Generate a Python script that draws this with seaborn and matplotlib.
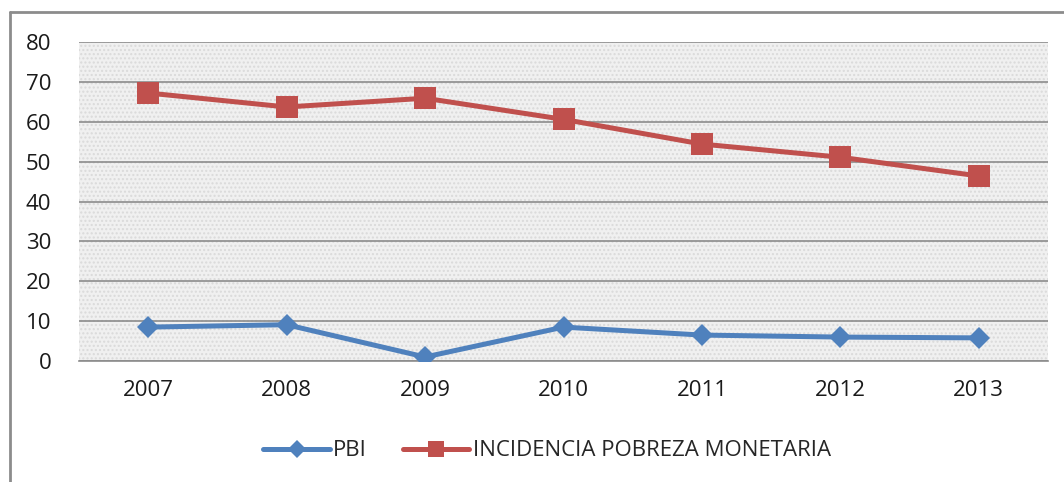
import matplotlib
matplotlib.use("Agg")
import matplotlib.pyplot as plt
import numpy as np
import pandas as pd
import seaborn as sns
from matplotlib.lines import Line2D

years = ["2007", "2008", "2009", "2010", "2011", "2012", "2013"]
pbi = [8.5, 9.1, 1.0, 8.5, 6.5, 6.0, 5.8]
pobreza = [67.2, 63.7, 65.9, 60.6, 54.4, 51.1, 46.4]
yticks = [0, 10, 20, 30, 40, 50, 60, 70, 80]

sns.set_style("white")
plt.rcParams['font.family'] = ['Open Sans', 'DejaVu Sans']

df = pd.DataFrame({"year": years, "PBI": pbi, "INCIDENCIA POBREZA MONETARIA": pobreza})
df = df.melt(id_vars="year", var_name="serie", value_name="valor")

fig = plt.figure(figsize=(10.64, 4.82), dpi=100)
ax = fig.add_axes([79 / 1064, 1 - 361 / 482, (1048 - 79) / 1064, (361 - 42) / 482])

ax.set_facecolor("#f0f0f0")
ax.add_patch(plt.Rectangle((0, 0), 1, 1, transform=ax.transAxes, facecolor="none",
                           edgecolor="#dadada", hatch="....", linewidth=0, zorder=0))

sns.lineplot(data=df, x="year", y="valor", hue="serie", style="serie",
             palette={"PBI": "#4F81BD", "INCIDENCIA POBREZA MONETARIA": "#C0504D"},
             markers={"PBI": "D", "INCIDENCIA POBREZA MONETARIA": "s"},
             dashes=False, linewidth=3.6, markeredgewidth=0, ax=ax, legend=False, zorder=3)

# tamaño de marcadores por serie
for line in ax.get_lines():
    if line.get_marker() == "D":
        line.set_markersize(11)
    else:
        line.set_markersize(15.5)

ax.set_xlim(-0.5, len(years) - 0.5)
ax.set_ylim(0, 80)
ax.set_yticks(yticks)
ax.set_xlabel("")
ax.set_ylabel("")
ax.grid(axis="y", color="#8c8c8c", linewidth=1.2)
ax.set_axisbelow(True)
for s in ["left", "right", "top"]:
    ax.spines[s].set_visible(False)
ax.spines["bottom"].set_color("#8c8c8c")
ax.spines["bottom"].set_linewidth(1.2)
ax.tick_params(axis="both", length=0, labelsize=16, colors="#1a1a1a")
ax.tick_params(axis="x", pad=14)
ax.tick_params(axis="y", pad=20)

handles = [
    Line2D([], [], color="#4F81BD", marker="D", markersize=9, linewidth=3.6, markeredgewidth=0),
    Line2D([], [], color="#C0504D", marker="s", markersize=12, linewidth=3.6, markeredgewidth=0),
]
fig.legend(handles, ["PBI", "INCIDENCIA POBREZA MONETARIA"], loc="center",
           bbox_to_anchor=(547 / 1064, 1 - 451 / 482), ncol=2, frameon=False,
           fontsize=16, handlelength=3.0, columnspacing=1.6, handletextpad=0.15)

# marco exterior del gráfico
fig.add_artist(Line2D([10 / 1064, 10 / 1064], [0, 1 - 12 / 482], color="#8c8c8c", linewidth=2,
                      transform=fig.transFigure))
fig.add_artist(Line2D([10 / 1064, 1], [1 - 12 / 482, 1 - 12 / 482], color="#8c8c8c", linewidth=2,
                      transform=fig.transFigure))

fig.savefig("out.png", dpi=100)
